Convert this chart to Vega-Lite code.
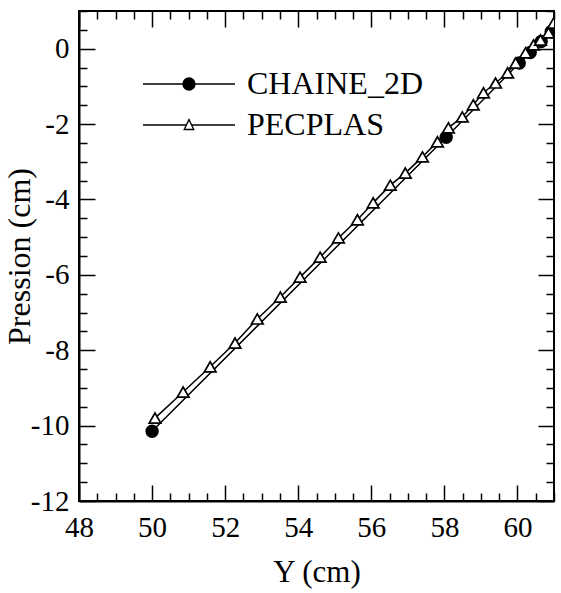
{
  "$schema": "https://vega.github.io/schema/vega-lite/v6.json",
  "width": 475,
  "height": 490,
  "autosize": "none",
  "padding": {"left": 79, "top": 11, "right": 7, "bottom": 92},
  "background": "white",
  "config": {
    "view": {"stroke": "black", "strokeWidth": 2},
    "font": "Liberation Serif",
    "axis": {
      "grid": false,
      "domainColor": "black",
      "domainWidth": 2,
      "tickColor": "black",
      "tickWidth": 1.5,
      "labelColor": "black",
      "labelFont": "Liberation Serif",
      "labelFontSize": 29,
      "labelOverlap": false,
      "labelFlush": false,
      "titleFont": "Liberation Serif",
      "titleFontSize": 31,
      "titleFontWeight": "normal",
      "titleColor": "black"
    }
  },
  "data": {
    "values": [
      {"series": "CHAINE_2D", "y": 50.0, "p": -10.15},
      {"series": "CHAINE_2D", "y": 58.05, "p": -2.35},
      {"series": "CHAINE_2D", "y": 60.05, "p": -0.38},
      {"series": "CHAINE_2D", "y": 60.35, "p": -0.1},
      {"series": "CHAINE_2D", "y": 60.65, "p": 0.19},
      {"series": "CHAINE_2D", "y": 60.92, "p": 0.45},
      {"series": "PECPLAS", "y": 50.08, "p": -9.8},
      {"series": "PECPLAS", "y": 50.85, "p": -9.11},
      {"series": "PECPLAS", "y": 51.59, "p": -8.44},
      {"series": "PECPLAS", "y": 52.27, "p": -7.81},
      {"series": "PECPLAS", "y": 52.88, "p": -7.17},
      {"series": "PECPLAS", "y": 53.51, "p": -6.59},
      {"series": "PECPLAS", "y": 54.05, "p": -6.06},
      {"series": "PECPLAS", "y": 54.6, "p": -5.53},
      {"series": "PECPLAS", "y": 55.1, "p": -5.02},
      {"series": "PECPLAS", "y": 55.62, "p": -4.54},
      {"series": "PECPLAS", "y": 56.05, "p": -4.09},
      {"series": "PECPLAS", "y": 56.52, "p": -3.62},
      {"series": "PECPLAS", "y": 56.93, "p": -3.3},
      {"series": "PECPLAS", "y": 57.4, "p": -2.87},
      {"series": "PECPLAS", "y": 57.81, "p": -2.47},
      {"series": "PECPLAS", "y": 58.11, "p": -2.1},
      {"series": "PECPLAS", "y": 58.49, "p": -1.81},
      {"series": "PECPLAS", "y": 58.79, "p": -1.49},
      {"series": "PECPLAS", "y": 59.07, "p": -1.17},
      {"series": "PECPLAS", "y": 59.4, "p": -0.91},
      {"series": "PECPLAS", "y": 59.73, "p": -0.64},
      {"series": "PECPLAS", "y": 59.95, "p": -0.38},
      {"series": "PECPLAS", "y": 60.22, "p": -0.11},
      {"series": "PECPLAS", "y": 60.44, "p": 0.1},
      {"series": "PECPLAS", "y": 60.63, "p": 0.23},
      {"series": "PECPLAS", "y": 60.85, "p": 0.42},
      {"series": "PECPLAS", "y": 60.99, "p": 0.68}
    ]
  },
  "layer": [
    {
      "mark": {"type": "line", "color": "black", "strokeWidth": 1.5, "clip": true},
      "encoding": {
        "x": {
          "field": "y", "type": "quantitative",
          "scale": {"domain": [48, 61], "nice": false, "zero": false},
          "axis": {
            "orient": "bottom",
            "values": [48, 48.5, 49, 49.5, 50, 50.5, 51, 51.5, 52, 52.5, 53, 53.5, 54, 54.5, 55, 55.5, 56, 56.5, 57, 57.5, 58, 58.5, 59, 59.5, 60, 60.5, 61],
            "labelExpr": "datum.value % 2 === 0 ? '' + datum.value : ''",
            "tickSize": {"condition": {"test": "datum.value % 2 === 0", "value": -16}, "value": -8},
            "labelPadding": 28,
            "title": "Y (cm)",
            "titlePadding": 7
          }
        },
        "y": {
          "field": "p", "type": "quantitative",
          "scale": {"domain": [-12, 1], "nice": false, "zero": false},
          "axis": {
            "orient": "left",
            "values": [-12, -11.5, -11, -10.5, -10, -9.5, -9, -8.5, -8, -7.5, -7, -6.5, -6, -5.5, -5, -4.5, -4, -3.5, -3, -2.5, -2, -1.5, -1, -0.5, 0, 0.5, 1],
            "labelExpr": "datum.value % 2 === 0 ? '' + datum.value : ''",
            "tickSize": {"condition": {"test": "datum.value % 2 === 0", "value": -16}, "value": -8},
            "labelPadding": 26,
            "title": "Pression (cm)",
            "titleFontSize": 32,
            "titlePadding": -6
          }
        },
        "detail": {"field": "series"}
      }
    },
    {
      "transform": [{"filter": "datum.series === 'CHAINE_2D'"}],
      "mark": {"type": "point", "shape": "circle", "fill": "black", "stroke": "black", "strokeWidth": 1.5, "opacity": 1, "size": 140, "clip": true},
      "encoding": {
        "x": {
          "field": "y", "type": "quantitative",
          "axis": {
            "orient": "top",
            "values": [48, 48.5, 49, 49.5, 50, 50.5, 51, 51.5, 52, 52.5, 53, 53.5, 54, 54.5, 55, 55.5, 56, 56.5, 57, 57.5, 58, 58.5, 59, 59.5, 60, 60.5, 61],
            "labels": false,
            "domain": false,
            "tickSize": {"condition": {"test": "datum.value % 2 === 0", "value": -16}, "value": -8},
            "title": null
          }
        },
        "y": {
          "field": "p", "type": "quantitative",
          "axis": {
            "orient": "right",
            "values": [-12, -11.5, -11, -10.5, -10, -9.5, -9, -8.5, -8, -7.5, -7, -6.5, -6, -5.5, -5, -4.5, -4, -3.5, -3, -2.5, -2, -1.5, -1, -0.5, 0, 0.5, 1],
            "labels": false,
            "domain": false,
            "tickSize": {"condition": {"test": "datum.value % 2 === 0", "value": -16}, "value": -8},
            "title": null
          }
        }
      }
    },
    {
      "transform": [{"filter": "datum.series === 'PECPLAS'"}],
      "mark": {"type": "point", "shape": "triangle-up", "fill": "white", "stroke": "black", "strokeWidth": 1.7, "opacity": 1, "size": 135, "clip": true},
      "encoding": {
        "x": {"field": "y", "type": "quantitative", "axis": null},
        "y": {"field": "p", "type": "quantitative", "axis": null}
      }
    },
    {
      "transform": [{"filter": "false"}],
      "mark": {"type": "point", "strokeWidth": 1.3, "opacity": 1},
      "encoding": {
        "x": {"field": "y", "type": "quantitative", "axis": null},
        "y": {"field": "p", "type": "quantitative", "axis": null},
        "fill": {
          "field": "series", "type": "nominal",
          "scale": {"domain": ["CHAINE_2D", "PECPLAS"], "range": ["black", "white"]}
        },
        "stroke": {
          "field": "series", "type": "nominal",
          "scale": {"domain": ["CHAINE_2D", "PECPLAS"], "range": ["black", "black"]}
        },
        "shape": {
          "field": "series", "type": "nominal",
          "scale": {
            "domain": ["CHAINE_2D", "PECPLAS"],
            "range": [
              "M-7.67,0H7.67M1,0A1,1,0,1,1,-1,0A1,1,0,1,1,1,0Z",
              "M-7.67,0H-0.45M0.45,0H7.67M0,-0.9L0.8,0.75L-0.8,0.75Z"
            ]
          },
          "legend": {
            "orient": "none",
            "legendX": 94,
            "legendY": 57,
            "title": null,
            "padding": 0,
            "labelFont": "Liberation Serif",
            "labelFontSize": 32,
            "labelColor": "black",
            "labelLimit": 400,
            "labelOffset": 42,
            "symbolSize": 144,
            "symbolStrokeWidth": 1.3,
            "symbolOpacity": 1,
            "rowPadding": 9
          }
        }
      }
    }
  ]
}
